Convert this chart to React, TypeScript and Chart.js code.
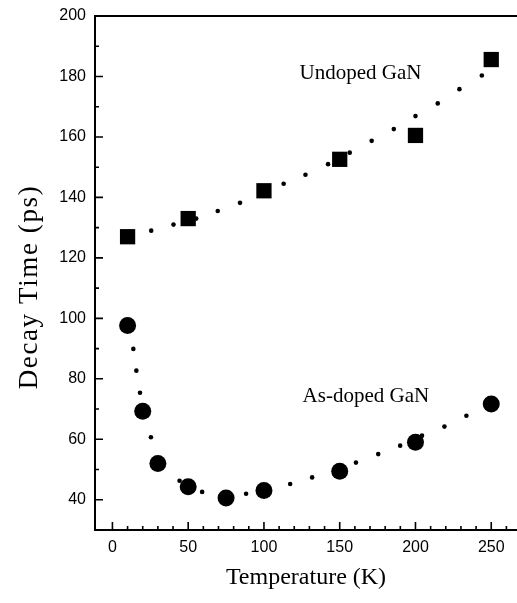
import React, { useEffect, useRef } from 'react';
import { Chart, registerables } from 'chart.js';

Chart.register(...registerables);

// Measured data (Temperature in K, decay time in ps)
const undopedT = [10, 50, 100, 150, 200, 250];
const undopedTau = [127, 133, 142.2, 152.6, 160.5, 185.6];

const asDopedT = [10, 20, 30, 50, 75, 100, 150, 200, 250];
const asDopedTau = [97.6, 69.3, 52.0, 44.3, 40.6, 43.1, 49.4, 59.0, 71.7];

// Dotted fit curves (dots)
const undopedFitT = [25.6, 40.3, 55.3, 69.5, 84.2, 113.0, 127.4, 142.3, 156.6, 171.1, 185.7, 200.0, 214.7, 229.0, 243.8];
const undopedFitTau = [129.0, 131.0, 133.0, 135.5, 138.2, 144.5, 147.5, 151.0, 154.8, 158.7, 162.6, 166.9, 171.1, 175.8, 180.3];

const asDopedFitT = [13.8, 15.8, 18.2, 25.4, 44.3, 59.2, 88.2, 117.3, 131.8, 160.7, 175.4, 189.9, 204.3, 219.1, 233.6];
const asDopedFitTau = [89.9, 82.7, 75.4, 60.7, 46.3, 42.6, 42.0, 45.2, 47.4, 52.3, 55.1, 57.9, 61.2, 64.2, 67.8];

const xTickLabels = [0, 50, 100, 150, 200, 250];
const yTickLabels = [40, 60, 80, 100, 120, 140, 160, 180, 200];

const undopedLabel = 'Undoped GaN';
const asDopedLabel = 'As-doped GaN';
const xTitle = 'Temperature (K)';
const yTitle = 'Decay Time (ps)';

const toPoints = (xs: number[], ys: number[]) => xs.map((x, i) => ({ x, y: ys[i] }));

const framePlugin = {
  id: 'frameAndTicks',
  afterDatasetsDraw(chart: any) {
    const { ctx, chartArea, scales } = chart;
    const xs = scales.x;
    const ys = scales.y;
    ctx.save();
    ctx.strokeStyle = '#000';
    ctx.lineWidth = 2;
    ctx.beginPath();
    ctx.moveTo(chartArea.right + 2, chartArea.top);
    ctx.lineTo(chartArea.left, chartArea.top);
    ctx.lineTo(chartArea.left, chartArea.bottom);
    ctx.lineTo(chartArea.right + 2, chartArea.bottom);
    ctx.stroke();
    // inward ticks
    ctx.lineWidth = 1.6;
    ctx.beginPath();
    for (let v = 0; v <= xs.max; v += 10) {
      const px = xs.getPixelForValue(v);
      const len = xTickLabels.includes(v) ? 8 : 4;
      ctx.moveTo(px, chartArea.bottom);
      ctx.lineTo(px, chartArea.bottom - len);
    }
    for (let v = 40; v <= ys.max; v += 10) {
      const py = ys.getPixelForValue(v);
      const len = yTickLabels.includes(v) ? 8 : 4;
      ctx.moveTo(chartArea.left, py);
      ctx.lineTo(chartArea.left + len, py);
    }
    ctx.stroke();

    // series labels
    ctx.fillStyle = '#000';
    ctx.font = '21px "Liberation Serif", "Times New Roman", serif';
    ctx.textAlign = 'left';
    ctx.textBaseline = 'alphabetic';
    ctx.fillText(undopedLabel, xs.getPixelForValue(123.5), ys.getPixelForValue(179.2));
    ctx.fillText(asDopedLabel, xs.getPixelForValue(125.5), ys.getPixelForValue(72.4));

    // y-axis title
    ctx.font = '27px "Liberation Serif", "Times New Roman", serif';
    ctx.textAlign = 'center';
    ctx.textBaseline = 'middle';
    ctx.translate(30, 287);
    ctx.rotate(-Math.PI / 2);
    try { (ctx as any).letterSpacing = '1.6px'; } catch (e) {}
    ctx.fillText(yTitle, 0, 0);
    try { (ctx as any).letterSpacing = '0px'; } catch (e) {}
    ctx.restore();
  },
};

export default function App() {
  const ref = useRef<HTMLCanvasElement | null>(null);

  useEffect(() => {
    if (!ref.current) return;
    const tickFont = { family: '"Liberation Sans", Arial, sans-serif', size: 16 };
    const chart = new Chart(ref.current, {
      type: 'scatter',
      data: {
        datasets: [
          {
            label: 'Undoped fit',
            data: toPoints(undopedFitT, undopedFitTau),
            pointStyle: 'circle',
            pointRadius: 2.3,
            backgroundColor: '#000',
            borderWidth: 0,
            showLine: false,
          },
          {
            label: 'As-doped fit',
            data: toPoints(asDopedFitT, asDopedFitTau),
            pointStyle: 'circle',
            pointRadius: 2.3,
            backgroundColor: '#000',
            borderWidth: 0,
            showLine: false,
          },
          {
            label: undopedLabel,
            data: toPoints(undopedT, undopedTau),
            pointStyle: 'rect',
            pointRadius: 10.8,
            backgroundColor: '#000',
            borderWidth: 0,
            showLine: false,
          },
          {
            label: asDopedLabel,
            data: toPoints(asDopedT, asDopedTau),
            pointStyle: 'circle',
            pointRadius: 8.5,
            backgroundColor: '#000',
            borderWidth: 0,
            showLine: false,
          },
        ],
      },
      options: {
        animation: false,
        responsive: false,
        events: [],
        layout: { autoPadding: false, padding: { top: 16, right: 0, left: 0, bottom: 0 } },
        plugins: {
          legend: { display: false },
          tooltip: { enabled: false },
        },
        scales: {
          x: {
            type: 'linear',
            min: -11.5,
            max: 267,
            grid: { display: false, drawTicks: false },
            border: { display: false },
            ticks: {
              stepSize: 10,
              includeBounds: false,
              autoSkip: false,
              maxRotation: 0,
              padding: 8,
              color: '#000',
              font: tickFont,
              callback: (v: any) => (xTickLabels.includes(Number(v)) ? String(v) : ''),
            },
            title: {
              display: true,
              text: xTitle,
              color: '#000',
              font: { family: '"Liberation Serif", "Times New Roman", serif', size: 24 },
              padding: { top: 0, bottom: 11 },
            },
            afterFit: (s: any) => {
              s.height = 73;
              s.paddingLeft = 0;
              s.paddingRight = 0;
            },
          },
          y: {
            type: 'linear',
            min: 30,
            max: 200,
            grid: { display: false, drawTicks: false },
            border: { display: false },
            ticks: {
              stepSize: 10,
              autoSkip: false,
              padding: 9,
              color: '#000',
              font: tickFont,
              callback: (v: any) => (yTickLabels.includes(Number(v)) ? String(v) : ''),
            },
            afterFit: (s: any) => {
              s.width = 95;
              s.paddingTop = 0;
              s.paddingBottom = 0;
            },
          },
        },
      },
      plugins: [framePlugin],
    });
    return () => chart.destroy();
  }, []);

  return (
    <div style={{ position: 'absolute', left: 0, top: 0, width: 517, height: 603, background: '#fff' }}>
      <canvas ref={ref} width={517} height={603} />
    </div>
  );
}
